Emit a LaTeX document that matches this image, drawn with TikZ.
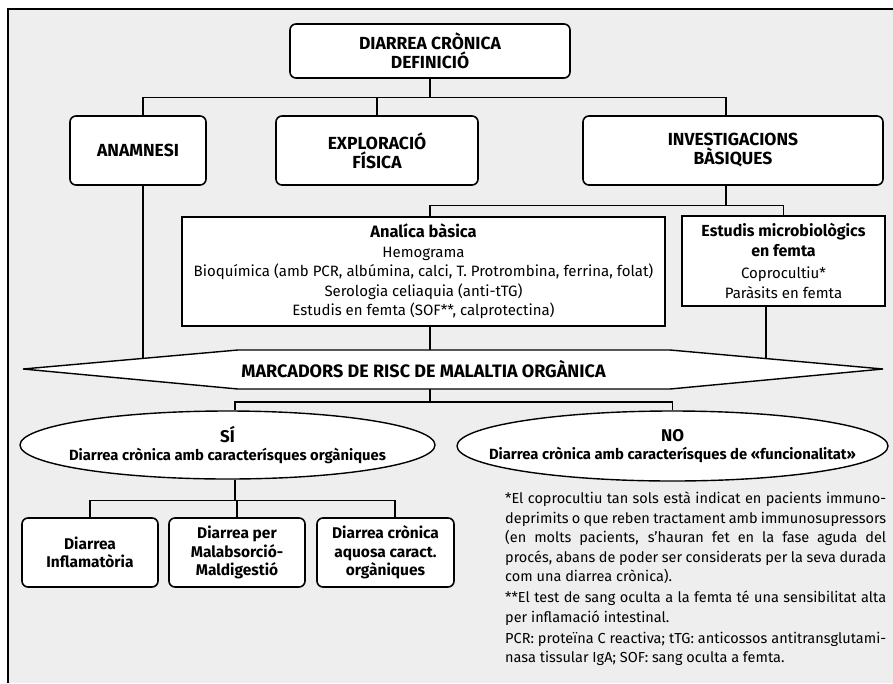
\documentclass[tikz,border=0pt]{standalone}
\usepackage{fontspec}
\setmainfont{Fira Sans}
\usetikzlibrary{shapes.geometric}
\definecolor{fons}{HTML}{EEEEEE}
\setlength{\parindent}{0pt}
\tikzset{
  caixa/.style={draw, line width=1.6pt, rounded corners=6pt, fill=white, align=center, inner sep=0pt, font=\fontsize{17.5}{19}\selectfont\bfseries},
  quadre/.style={draw, line width=1.4pt, fill=white, align=center, inner sep=0pt, font=\fontsize{15}{19.5}\selectfont},
  bombolla/.style={draw, ellipse, line width=1.4pt, fill=white, inner sep=0pt},
  etiqueta/.style={align=center, inner sep=0pt, font=\fontsize{14.8}{18.5}\selectfont\bfseries},
  linia/.style={line width=1.1pt}
}

\begin{document}
\begin{tikzpicture}[x=1pt, y=-1pt]
\useasboundingbox (0,0) rectangle (893,683);
\fill[white] (0,0) rectangle (893,683);
\fill[fons] (8,9) rectangle (893,683);
\draw[line width=1.2pt] (8,683) -- (8,9) -- (893,9);

\node[caixa, minimum width=280, minimum height=54] (titol) at (430,51) {DIARREA CRÒNICA\\DEFINICIÓ};
\node[caixa, minimum width=136, minimum height=69] (anam) at (138,150.5) {ANAMNESI};
\node[caixa, minimum width=202, minimum height=69] (explor) at (377,150.5) {EXPLORACIÓ\\FÍSICA};
\node[caixa, minimum width=300, minimum height=69] (invest) at (733,150.5) {INVESTIGACIONS\\BÀSIQUES};
\node[quadre, minimum width=483, minimum height=109] (analit) at (423.5,271.5) {{\fontsize{16.5}{19}\selectfont\bfseries Analíca bàsica}\\Hemograma\\Bioquímica (amb PCR, albúmina, calci, T. Protrombina, ferrina, folat)\\Serologia celiaquia (anti-tTG)\\Estudis en femta (SOF**, calprotectina)};
\node[quadre, minimum width=203, minimum height=90] (estud) at (783.5,261) {{\fontsize{16}{18}\selectfont\bfseries Estudis microbiològics}\\{\fontsize{16}{18}\selectfont\bfseries en femta}\\[3pt]Coprocultiu*\\Paràsits en femta};

\coordinate (rW) at (23,369);
\coordinate (rNW) at (238,350);
\coordinate (rNE) at (670,350);
\coordinate (rE) at (883,369);
\coordinate (rSE) at (670,389);
\coordinate (rSW) at (238,389);

\draw[linia] (titol.south) -- ++(0,19) coordinate (b1);
\draw[linia] ([xshift=5pt]anam.north) |- (b1) -| ([xshift=-7pt]invest.north);
\draw[linia] (explor.north) -- (explor.north |- b1);
\draw[linia] ([xshift=-7pt]invest.south) -- ++(0,20) coordinate (b2);
\draw[linia] (titol |- analit.north) |- (b2) -| (estud.north);
\draw[linia] (titol |- analit.south) -- (titol |- rW);
\draw[linia] ([xshift=5pt]anam.south) -- ([xshift=5pt]anam.south |- rW);
\draw[linia] ([xshift=-17.5pt]estud.south) -- ([xshift=-17.5pt]estud.south |- rE);

\draw[line width=1.4pt, fill=white] (rW) -- (rNW) -- (rNE) -- (rE) -- (rSE) -- (rSW) -- cycle;
\node[font=\fontsize{18}{19}\selectfont\bfseries] (risc) at (423.5,369) {MARCADORS DE RISC DE MALALTIA ORGÀNICA};

\node[bombolla, minimum width=415, minimum height=68] (si) at (227.5,445) {};
\node[etiqueta] (siText) at (si) {{\fontsize{17}{18.5}\selectfont SÍ}\\Diarrea crònica amb caracterísques orgàniques};
\node[bombolla, minimum width=431, minimum height=70] (no) at (672.5,446) {};
\node[etiqueta] (noText) at (no) {{\fontsize{17}{18.5}\selectfont NO}\\Diarrea crònica amb caracterísques de «funcionalitat»};
\draw[linia] (titol |- rSW) -- ++(0,13) coordinate (b3);
\draw[linia] ([xshift=7.5pt]si.north) |- (b3) -| (no.north);

\node[caixa, font=\fontsize{15.5}{18.5}\selectfont\bfseries, minimum width=136, minimum height=69] (inflam) at (90,552.5) {Diarrea\\Inflamatòria};
\node[caixa, font=\fontsize{15.5}{18.5}\selectfont\bfseries, minimum width=136, minimum height=69] (malab) at (237,552.5) {Diarrea per\\Malabsorció-\\Maldigestió};
\node[caixa, font=\fontsize{15.5}{18.5}\selectfont\bfseries, minimum width=137, minimum height=69] (aquosa) at (385.5,552.5) {Diarrea crònica\\aquosa caract.\\orgàniques};
\draw[linia] ([xshift=7.5pt]si.south) -- ++(0,21) coordinate (b4);
\draw[linia] (inflam.north) |- (b4) -| ([xshift=9.5pt]aquosa.north);
\draw[linia] (malab.north) -- (malab.north |- b4);

\node[anchor=north west, inner sep=0pt, text width=381pt, align=justify, font=\fontsize{14.5}{19.5}\selectfont] (notes) at (505,492) {\tolerance=10000\hyphenpenalty=10000
*El coprocultiu tan sols està indicat en pacients immuno-\linebreak deprimits o que reben tractament amb immunosupressors\linebreak (en molts pacients, s’hauran fet en la fase aguda del\linebreak procés, abans de poder ser considerats per la seva durada\linebreak com una diarrea crònica).\par\vspace{1.5pt}
**El test de sang oculta a la femta té una sensibilitat alta\linebreak per inflamació intestinal.\par\vspace{1.5pt}
PCR: proteïna C reactiva; tTG: anticossos antitransglutami-\linebreak nasa tissular IgA; SOF: sang oculta a femta.};
\end{tikzpicture}
\end{document}
